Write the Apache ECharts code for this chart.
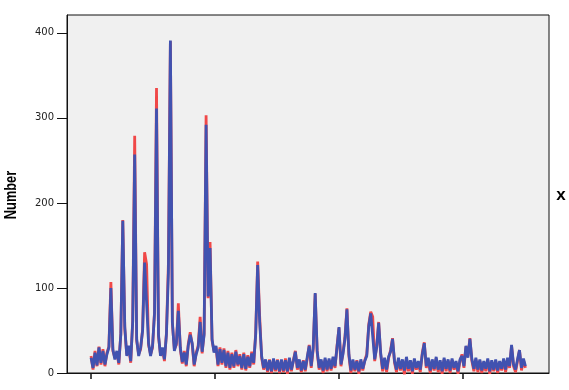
<!DOCTYPE html>
<html>
<head>
<meta charset="utf-8">
<script src="https://cdn.jsdelivr.net/npm/echarts@6/dist/echarts.min.js"></script>
<style>
html,body{margin:0;padding:0;background:#fff;}
#chart{width:569px;height:390px;}
</style>
</head>
<body>
<div id="chart"></div>
<script>
// ---- data ----
const yTicks = [0, 100, 200, 300, 400];
const xTicks = [0, 1000, 2000, 3000];
const sampleStep = 16;
const seriesNames = ['red', 'x'];

const blueValues = [
18,6,24,9,30,12,26,10,22,30,
100,28,16,26,12,45,179,55,20,32,
14,60,257,40,20,30,50,130,132,35,
20,32,70,311,45,20,30,16,45,118,
391,60,26,35,73,30,13,24,10,32,
45,35,10,22,30,60,25,45,292,90,
147,40,24,32,10,28,12,27,8,24,
6,22,8,25,10,20,6,22,5,19,
8,23,12,45,127,60,20,6,16,3,
15,2,17,4,15,2,16,3,15,2,
18,4,14,25,6,16,3,14,4,19,
32,8,30,94,26,6,16,3,18,4,
17,5,19,8,30,54,10,22,40,75,
22,3,16,4,14,2,16,5,14,20,
55,70,68,16,30,59,24,5,18,4,
19,25,40,14,4,18,5,16,3,19,
5,15,2,17,6,14,4,22,35,8,
18,3,16,5,19,4,15,2,18,5,
16,3,17,6,14,2,16,20,8,32,
18,40,16,5,18,4,16,3,14,5,
17,2,15,4,16,3,14,5,17,4,
18,8,33,10,4,16,27,6,17,8
];

const redValues = [
20,4,26,8,31,10,28,8,24,31,
107,26,18,24,10,46,180,52,22,30,
12,62,279,38,22,28,52,142,128,33,
22,30,72,335,43,22,28,14,47,129,
390,58,28,33,82,28,11,26,8,34,
48,33,8,24,32,66,23,47,303,88,
154,38,26,30,8,30,10,29,6,26,
4,24,6,27,8,22,4,24,3,21,
6,25,10,47,131,67,18,4,14,1,
16,0,15,2,16,0,14,1,17,-1,
16,2,15,26,4,14,1,15,2,17,
33,6,28,93,24,4,14,0,16,2,
15,3,17,6,32,53,8,24,42,76,
20,0,14,2,15,-1,14,3,15,22,
57,72,66,14,32,60,22,2,16,1,
17,27,41,12,1,16,3,14,-2,17,
2,13,-1,15,4,12,1,24,36,6,
16,0,14,3,17,1,13,-1,16,2,
14,0,15,4,12,-1,14,22,6,31,
20,41,14,2,16,1,14,0,12,2,
15,-1,13,2,14,0,12,3,15,1,
16,6,32,8,1,14,27,3,15,6
];

// ---- chart ----
const samples = blueValues.map((_, i) => i * sampleStep);
const toPairs = vals => vals.map((v, i) => [samples[i], v]);

const chart = echarts.init(document.getElementById('chart'), null, {renderer: 'canvas'});
chart.setOption({
  animation: false,
  grid: {
    left: 67, top: 15, right: 20, bottom: 17,
    show: true, backgroundColor: '#f0f0f0', borderColor: '#111', borderWidth: 1
  },
  xAxis: {
    type: 'value',
    min: -194, max: 3694,
    axisLine: {show: true, onZero: false, lineStyle: {color: '#111', width: 1}},
    axisTick: {show: true, length: 6, lineStyle: {color: '#111', width: 1.5}, customValues: xTicks},
    axisLabel: {show: false, customValues: xTicks},
    splitLine: {show: false}
  },
  yAxis: {
    type: 'value',
    min: 0, max: 421,
    axisLine: {show: true, onZero: false, lineStyle: {color: '#111', width: 1}},
    axisTick: {show: true, length: 10, lineStyle: {color: '#111', width: 1}, customValues: yTicks},
    axisLabel: {
      show: true, customValues: yTicks, margin: 13,
      fontFamily: 'DejaVu Sans', fontSize: 10, color: '#222'
    },
    splitLine: {show: false}
  },
  graphic: [
    {
      type: 'text', x: 12, y: 195, rotation: Math.PI / 2, scaleX: 0.8,
      style: {
        text: 'Number', fontFamily: '"Liberation Sans", Arial, sans-serif', fontWeight: 'bold',
        fontSize: 16, fill: '#000', align: 'center', verticalAlign: 'middle'
      }
    },
    {
      type: 'text', x: 561, y: 195,
      style: {
        text: 'x', fontFamily: '"Liberation Sans", Arial, sans-serif', fontWeight: 'bold',
        fontSize: 17, fill: '#000', align: 'center', verticalAlign: 'middle'
      }
    }
  ],
  series: [
    {
      name: seriesNames[0], type: 'line', data: toPairs(redValues),
      showSymbol: false, symbol: 'none', z: 2,
      lineStyle: {color: '#f04848', width: 2.8}
    },
    {
      name: seriesNames[1], type: 'line', data: toPairs(blueValues),
      showSymbol: false, symbol: 'none', z: 3,
      lineStyle: {color: '#4152b0', width: 2.8}
    }
  ]
});
</script>
</body>
</html>
